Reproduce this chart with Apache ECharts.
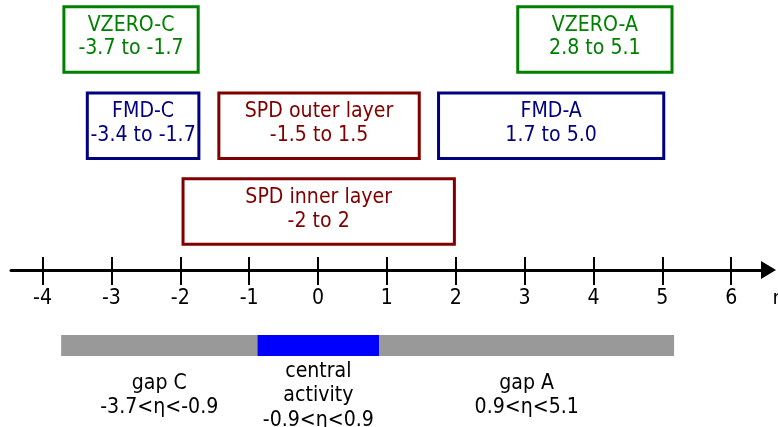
<!DOCTYPE html>
<html><head><meta charset="utf-8">
<script src="https://cdn.jsdelivr.net/npm/echarts@6/dist/echarts.min.js"></script>
<style>html,body{margin:0;padding:0;background:#fff}#c{width:778px;height:427px}</style>
</head><body><div id="c"></div>
<script>
// ---- data ----
const tickValues = [-4, -3, -2, -1, 0, 1, 2, 3, 4, 5, 6];
const tickLabels = ['-4', '-3', '-2', '-1', '0', '1', '2', '3', '4', '5', '6'];
const detectorNames = ['VZERO-C', 'FMD-C', 'SPD outer layer', 'FMD-A', 'SPD inner layer', 'VZERO-A'];
const detectorRanges = ['-3.7 to -1.7', '-3.4 to -1.7', '-1.5 to 1.5', '1.7 to 5.0', '-2 to 2', '2.8 to 5.1'];
const detectorKind = ['VZERO', 'FMD', 'SPD', 'FMD', 'SPD', 'VZERO'];
const detectorLevel = [0, 1, 1, 1, 2, 0];
const boxStart = [-3.69, -3.35, -1.44, 1.75, -1.96, 2.9];
const boxEnd = [-1.74, -1.73, 1.47, 5.02, 1.98, 5.14];
const regionNames = ['gap C', 'central\nactivity', 'gap A'];
const regionRanges = ['-3.7<η<-0.9', '-0.9<η<0.9', '0.9<η<5.1'];
const regionKind = ['gap', 'central', 'gap'];
const regionStart = [-3.73, -0.88, 0.89];
const regionEnd = [-0.88, 0.89, 5.17];

// ---- styles / layout ----
const kindColor = { VZERO: '#008000', FMD: '#000080', SPD: '#800000' };
const regionColor = { gap: '#999999', central: '#0000ff' };
const LEVEL_OFFSET = [230.5, 144.3, 58.4];  // px above axis line
const BOX_H = 65.5;
const FONT = '19px "DejaVu Sans"';
const TEXT_SCALE_Y = 1.08;
const X_MIN = -4.458, X_MAX = 6.541;

const chart = echarts.init(document.getElementById('c'), null, { renderer: 'canvas' });

const boxData = detectorNames.map((n, i) => [boxStart[i], boxEnd[i], detectorLevel[i]]);
const regionData = regionNames.map((n, i) => [regionStart[i], regionEnd[i]]);
const tickData = tickValues.map(v => [v, 0]);

chart.setOption({
  animation: false,
  backgroundColor: '#fff',
  grid: { left: 11, right: 9.5, top: 0, bottom: 0, containLabel: false, outerBoundsMode: 'none' },
  xAxis: [{
    type: 'value', min: X_MIN, max: X_MAX,
    axisLine: { show: true, onZero: true, onZeroAxisIndex: 0, symbol: ['none', 'triangle'], symbolSize: [18, 15],
      lineStyle: { color: '#000', width: 3 } },
    axisTick: { show: true, customValues: tickValues, length: 15, inside: false, lineStyle: { color: '#000', width: 2 } },
    axisLabel: { show: false },
    splitLine: { show: false },
    name: 'η', nameLocation: 'end', nameGap: 4,
    nameTextStyle: { color: '#000', fontSize: 19, fontFamily: 'DejaVu Sans', verticalAlign: 'top', padding: [20, 0, 0, 0] }
  }, {
    type: 'value', min: X_MIN, max: X_MAX, position: 'top',
    axisLine: { show: false, onZero: true, onZeroAxisIndex: 1 },
    axisTick: { show: true, customValues: tickValues, length: 13, inside: false, lineStyle: { color: '#000', width: 2 } },
    axisLabel: { show: false },
    splitLine: { show: false }
  }],
  yAxis: [
    { type: 'value', min: -157, max: 270, show: false, splitLine: { show: false } },
    { type: 'value', min: -157, max: 270, show: false, splitLine: { show: false } }
  ],
  series: [{
    // tick labels, placed through the x scale
    type: 'custom', xAxisIndex: 0, yAxisIndex: 0, clip: false,
    data: tickData,
    encode: { x: 0, y: 1 },
    renderItem: function (params, api) {
      const p = api.coord([api.value(0), api.value(1)]);
      return {
        type: 'text',
        x: p[0], y: p[1] + 29, scaleY: TEXT_SCALE_Y,
        style: {
          text: tickLabels[params.dataIndex], x: 0, y: 0,
          align: 'center', verticalAlign: 'middle', fill: '#000', font: FONT
        }
      };
    }
  }, {
    type: 'custom', xAxisIndex: 0, yAxisIndex: 0, clip: false,
    data: boxData,
    encode: { x: [0, 1] },
    renderItem: function (params, api) {
      const i = params.dataIndex;
      const p0 = api.coord([api.value(0), 0]);
      const p1 = api.coord([api.value(1), 0]);
      const cy = p0[1] - LEVEL_OFFSET[api.value(2)];
      const color = kindColor[detectorKind[i]];
      return {
        type: 'group',
        children: [{
          type: 'rect',
          shape: { x: p0[0], y: cy - BOX_H / 2, width: p1[0] - p0[0], height: BOX_H },
          style: { fill: 'none', stroke: color, lineWidth: 3 }
        }, {
          type: 'text',
          x: (p0[0] + p1[0]) / 2, y: cy - 2, scaleY: TEXT_SCALE_Y,
          style: {
            text: detectorNames[i] + '\n' + detectorRanges[i],
            x: 0, y: 0,
            align: 'center', verticalAlign: 'middle',
            fill: color, font: FONT, lineHeight: 21.5
          }
        }]
      };
    }
  }, {
    type: 'custom', xAxisIndex: 0, yAxisIndex: 0, clip: false,
    data: regionData,
    encode: { x: [0, 1] },
    renderItem: function (params, api) {
      const i = params.dataIndex;
      const p0 = api.coord([api.value(0), 0]);
      const p1 = api.coord([api.value(1), 0]);
      const axisY = p0[1];
      return {
        type: 'group',
        children: [{
          type: 'rect',
          shape: { x: p0[0], y: axisY + 65, width: p1[0] - p0[0], height: 21 },
          style: { fill: regionColor[regionKind[i]] }
        }, {
          type: 'text',
          x: (p0[0] + p1[0]) / 2, y: axisY + 126, scaleY: TEXT_SCALE_Y,
          style: {
            text: regionNames[i] + '\n' + regionRanges[i],
            x: 0, y: 0,
            align: 'center', verticalAlign: 'middle',
            fill: '#000', font: FONT, lineHeight: 22.5
          }
        }]
      };
    }
  }]
});
</script>
</body></html>
